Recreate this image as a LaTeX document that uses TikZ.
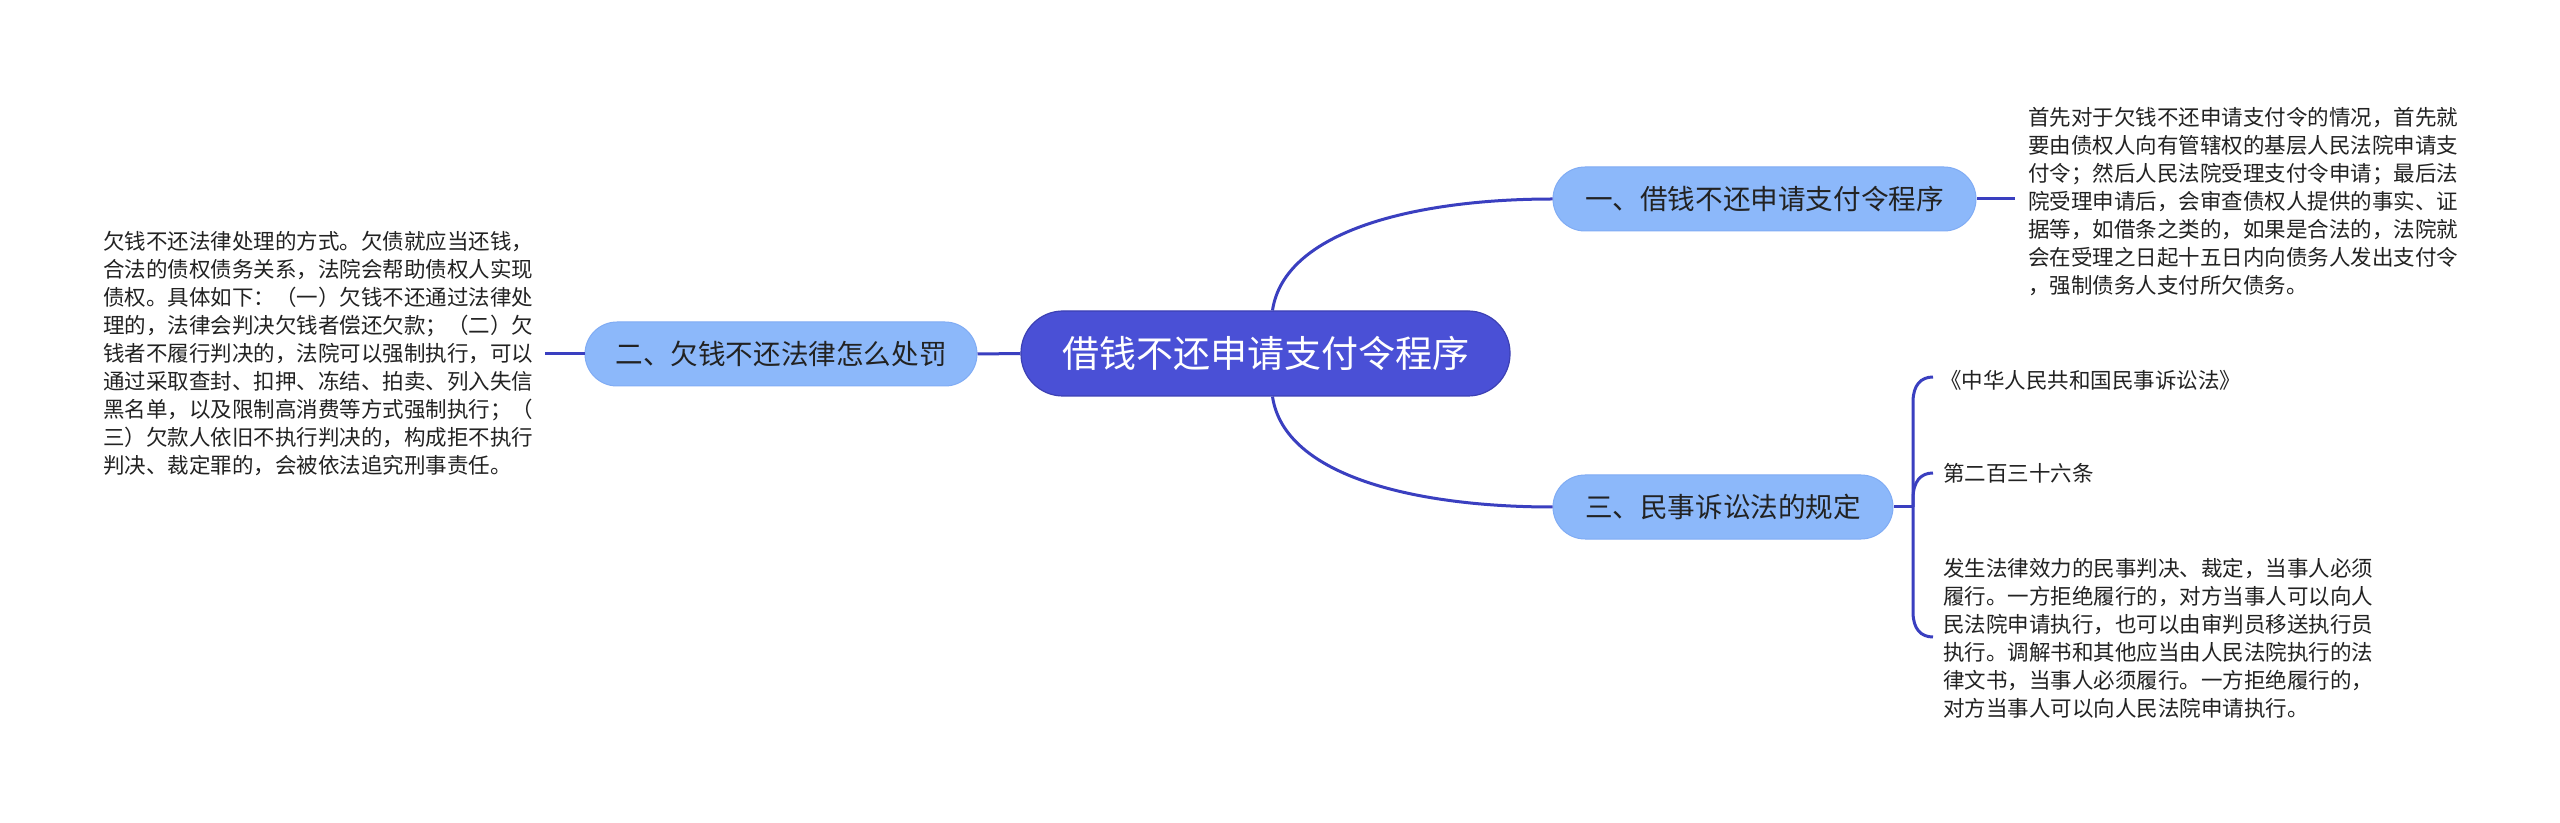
\documentclass[tikz,border=0pt]{standalone}
\usepackage{fontspec}
\setmainfont{Noto Sans CJK SC}
\usetikzlibrary{calc}
\definecolor{mainfill}{RGB}{74,80,214}
\definecolor{maindraw}{RGB}{60,64,180}
\definecolor{subfill}{RGB}{140,184,250}
\definecolor{subdraw}{RGB}{128,172,244}
\definecolor{linec}{RGB}{58,63,192}
\definecolor{txt}{RGB}{34,34,34}
\tikzset{
  mainnode/.style={rectangle, rounded corners=21pt, fill=mainfill, draw=maindraw, line width=0.6pt,
    minimum width=244.5pt, minimum height=42.5pt, inner sep=0pt, text=white,
    font=\fontsize{18.5pt}{22pt}\selectfont},
  subnode/.style={rectangle, rounded corners=16pt, fill=subfill, draw=subdraw, line width=0.5pt,
    minimum height=32pt, inner sep=0pt, text=txt,
    font=\fontsize{13.8pt}{16pt}\selectfont},
  leaf/.style={inner sep=0pt, align=left, text=txt, anchor=west,
    font=\fontsize{10.75pt}{14pt}\selectfont},
  conn/.style={draw=linec, line width=1.5pt}
}
\begin{document}
\begin{tikzpicture}[x=0.5pt,y=-0.5pt]
\useasboundingbox (0,0) rectangle (2560,823);
\fill[white] (0,0) rectangle (2560,823);

\node[mainnode] (c) at (1265.5,353.5) {借钱不还申请支付令程序};
\node[subnode, minimum width=211.5pt] (n1) at (1764.5,199) {一、借钱不还申请支付令程序};
\node[subnode, minimum width=196pt] (n2) at (781,354) {二、欠钱不还法律怎么处罚};
\node[subnode, minimum width=170pt] (n3) at (1723,507) {三、民事诉讼法的规定};

\node[leaf] (t1) at (2028,202) {首先对于欠钱不还申请支付令的情况，首先就\\
要由债权人向有管辖权的基层人民法院申请支\\
付令；然后人民法院受理支付令申请；最后法\\
院受理申请后，会审查债权人提供的事实、证\\
据等，如借条之类的，如果是合法的，法院就\\
会在受理之日起十五日内向债务人发出支付令\\
，强制债务人支付所欠债务。};

\node[leaf] (t2) at (103,354) {欠钱不还法律处理的方式。欠债就应当还钱，\\
合法的债权债务关系，法院会帮助债权人实现\\
债权。具体如下：（一）欠钱不还通过法律处\\
理的，法律会判决欠钱者偿还欠款；（二）欠\\
钱者不履行判决的，法院可以强制执行，可以\\
通过采取查封、扣押、冻结、拍卖、列入失信\\
黑名单，以及限制高消费等方式强制执行；（\\
三）欠款人依旧不执行判决的，构成拒不执行\\
判决、裁定罪的，会被依法追究刑事责任。};

\node[leaf] (t3a) at (1940,380) {《中华人民共和国民事诉讼法》};
\node[leaf] (t3b) at (1943,473) {第二百三十六条};
\node[leaf] (t3c) at (1943,638) {发生法律效力的民事判决、裁定，当事人必须\\
履行。一方拒绝履行的，对方当事人可以向人\\
民法院申请执行，也可以由审判员移送执行员\\
执行。调解书和其他应当由人民法院执行的法\\
律文书，当事人必须履行。一方拒绝履行的，\\
对方当事人可以向人民法院申请执行。};

\coordinate (e1) at (2015,199);
\coordinate (e2) at (545,354);
\coordinate (b) at (1913,507);
\coordinate (k1) at (1933,377);
\coordinate (k2) at (1933,473);
\coordinate (k3) at (1933,637);

\draw[conn] ($(c.north)+(7,0)$) .. controls ($(c.north)+(19,-81)$) and ($(n1.west)+(-133,0)$) .. (n1.west);
\draw[conn] ($(c.south)+(7,0)$) .. controls ($(c.south)+(19,81)$) and ($(n3.west)+(-133,0)$) .. (n3.west);
\draw[conn] (c.west) -- (n2.east);
\draw[conn] (n1.east) -- (e1);
\draw[conn] (n2.west) -- (e2);
\draw[conn] (n3.east) -- (b);
\draw[conn] (b) -- ($(b)+(0,-105)$) .. controls ($(b)+(0,-122)$) and ($(k1)+(-12,0)$) .. (k1);
\draw[conn] (b) -- ($(b)+(0,-8)$) .. controls ($(b)+(0,-26)$) and ($(k2)+(-12,0)$) .. (k2);
\draw[conn] (b) -- ($(b)+(0,105)$) .. controls ($(b)+(0,122)$) and ($(k3)+(-12,0)$) .. (k3);
\end{tikzpicture}
\end{document}
